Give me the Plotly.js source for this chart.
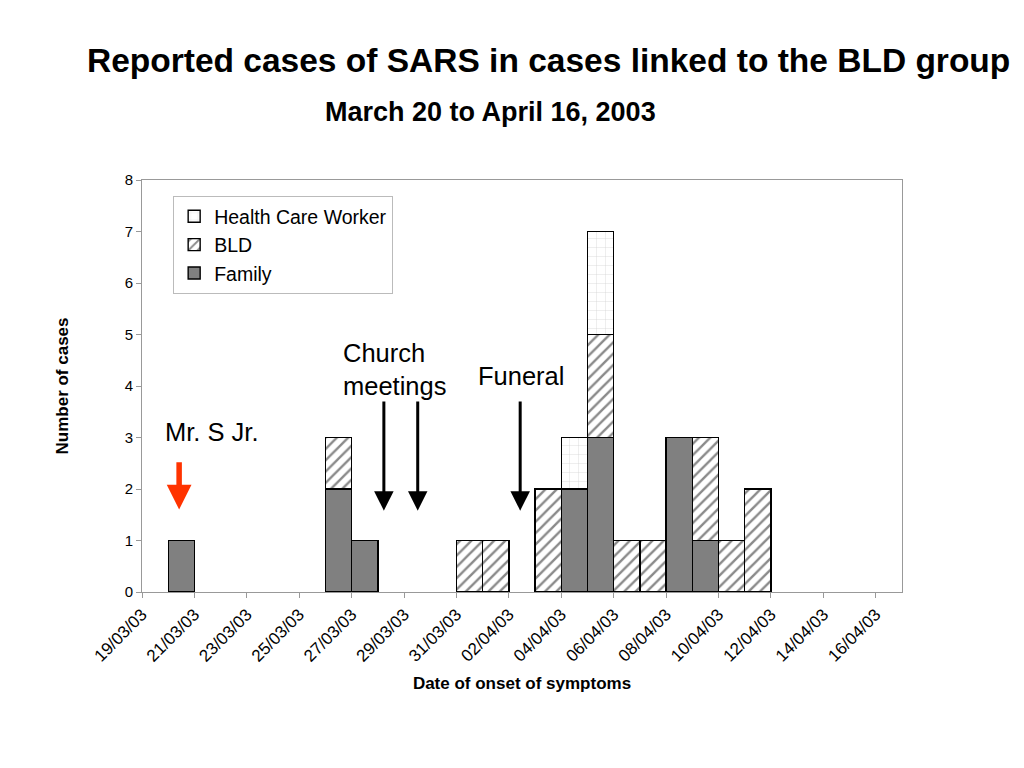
<!DOCTYPE html>
<html><head><meta charset="utf-8">
<script src="https://cdn.plot.ly/plotly-3.0.1.min.js"></script>
<style>body{margin:0;background:#fff}#chart{width:1024px;height:768px}</style>
</head><body><div id="chart"></div>
<script>
const dates  = ["2003-03-20","2003-03-26","2003-03-27","2003-03-31","2003-04-01","2003-04-03","2003-04-04","2003-04-05","2003-04-06","2003-04-07","2003-04-08","2003-04-09","2003-04-10","2003-04-11"];
const family = [1,2,1,0,0,0,2,3,0,0,3,1,0,0];
const bld    = [0,1,0,1,1,2,0,2,1,1,0,2,1,2];
const hcw    = [0,0,0,0,0,0,1,2,0,0,0,0,0,0];
const DAY = 86400000;
const font = "Liberation Sans, Arial, sans-serif";
const line = {color:"#000", width:1.4};
const common = {type:"bar", x:dates, offset:0, width:dates.map(()=>DAY), hoverinfo:"skip"};
const traces = [
  Object.assign({}, common, {name:"Family", y:family, marker:{color:"#808080", line:line}}),
  Object.assign({}, common, {name:"BLD", y:bld, marker:{color:"#fff", line:line, pattern:{shape:"/", fgcolor:"#8a8a8a", bgcolor:"#fff", size:8, solidity:0.3}}}),
  Object.assign({}, common, {name:"Health Care Worker", y:hcw, marker:{color:"#fff", line:line, pattern:{shape:"+", fgcolor:"#d0d0d0", bgcolor:"#fff", size:9, solidity:0.08}}})
];
function arrow(xd, color, yTop, yBot, w){
  return {x:xd, y:yBot, xref:"x", yref:"y", ax:xd, ay:yTop, axref:"x", ayref:"y",
    showarrow:true, arrowhead:2, arrowsize:color==="#000"?1.3:0.9, arrowwidth:w, arrowcolor:color, text:""};
}
const layout = {
  width:1024, height:768, paper_bgcolor:"#fff", plot_bgcolor:"#fff",
  margin:{l:142, r:122, t:180, b:176},
  barmode:"stack", bargap:0,
  font:{family:font, color:"#000"},
  showlegend:true,
  legend:{x:0.041, y:0.961, xanchor:"left", yanchor:"top", bgcolor:"#fff", bordercolor:"#bbb", borderwidth:1,
    font:{size:19.5, family:font, color:"#000"}, itemwidth:30, tracegroupgap:0},
  xaxis:{type:"date", range:["2003-03-19","2003-04-17"], tick0:"2003-03-19", dtick:2*DAY,
    tickformat:"%d/%m/%y", tickangle:-45, ticks:"outside", ticklen:5, tickcolor:"#999",
    showline:true, linecolor:"#999", linewidth:1, mirror:true, showgrid:false, zeroline:false,
    tickfont:{size:17, family:font, color:"#000"},
    title:{text:"Date of onset of symptoms", font:{size:17, family:font, weight:"bold", color:"#000"}, standoff:12}},
  yaxis:{range:[0,8], dtick:1, ticks:"outside", ticklen:5, tickcolor:"#999",
    showline:true, linecolor:"#999", linewidth:1, mirror:true, showgrid:false, zeroline:false,
    tickfont:{size:15, family:font, color:"#000"},
    title:{text:"Number of cases", font:{size:17, family:font, weight:"bold", color:"#000"}, standoff:51}},
  annotations:[
    {text:"<b>Reported cases of SARS in cases linked to the BLD group</b>", xref:"paper", yref:"paper", x:0.535, y:1.291, xanchor:"center", yanchor:"middle", showarrow:false, font:{size:33.5, family:font}},
    {text:"<b>March 20 to April 16, 2003</b>", xref:"paper", yref:"paper", x:0.458, y:1.165, xanchor:"center", yanchor:"middle", showarrow:false, font:{size:27, family:font}},
    {text:"Church<br>meetings", xref:"paper", yref:"paper", x:0.262, y:0.539, xanchor:"left", yanchor:"middle", align:"left", showarrow:false, font:{size:25.5, family:font}},
    {text:"Funeral", xref:"paper", yref:"paper", x:0.44, y:0.524, xanchor:"left", yanchor:"middle", showarrow:false, font:{size:25.5, family:font}},
    {text:"Mr. S Jr.", xref:"paper", yref:"paper", x:0.028, y:0.388, xanchor:"left", yanchor:"middle", showarrow:false, font:{size:25.5, family:font}},
    arrow("2003-03-20 10:00", "#ff3300", 2.55, 1.6, 5.5),
    arrow("2003-03-28 05:30", "#000", 3.73, 1.58, 3),
    arrow("2003-03-29 12:30", "#000", 3.73, 1.58, 3),
    arrow("2003-04-02 10:20", "#000", 3.73, 1.58, 3)
  ]
};
Plotly.newPlot("chart", traces, layout, {staticPlot:true, displayModeBar:false});
</script></body></html>
